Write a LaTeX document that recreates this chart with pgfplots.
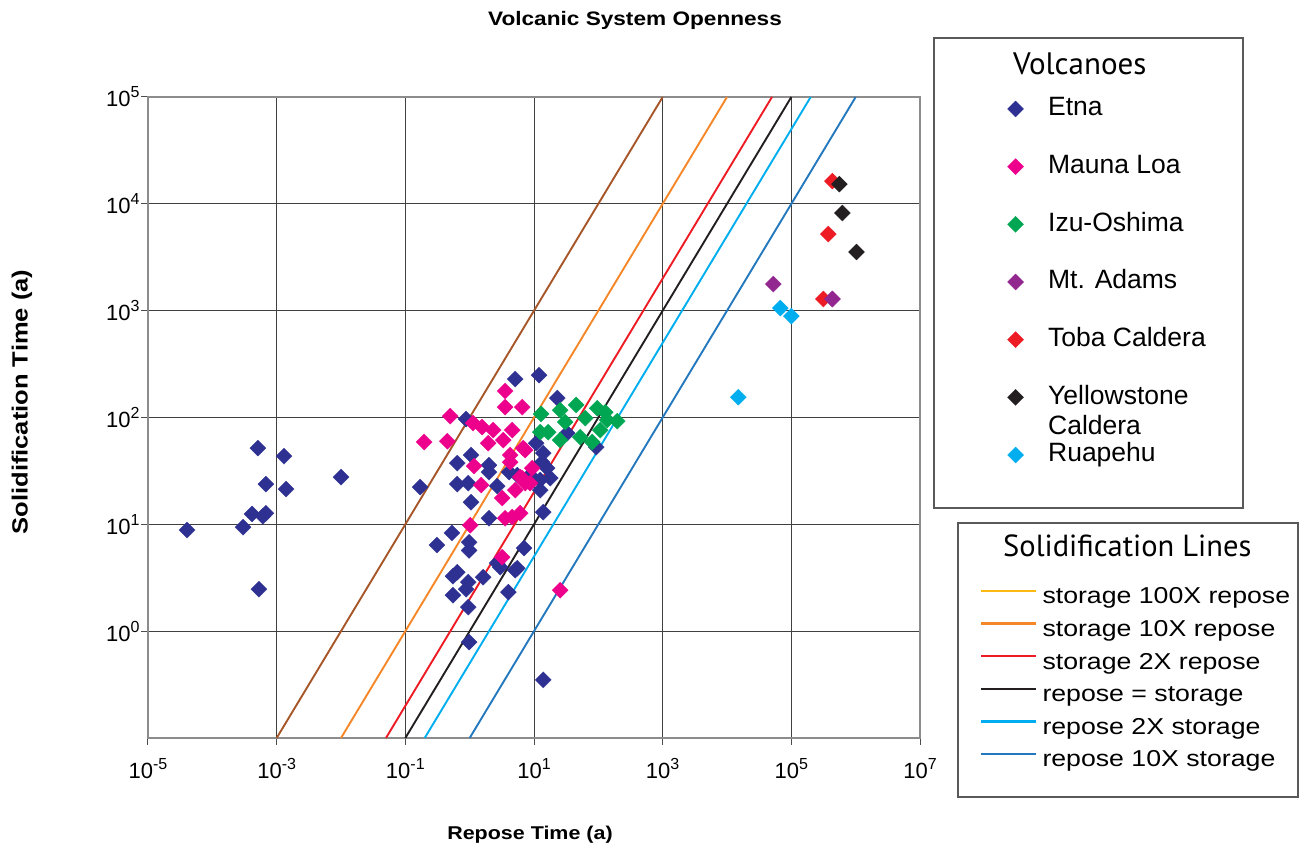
\documentclass[border=0pt]{standalone}
\usepackage{fontspec}
\setmainfont{Liberation Sans}
\newfontfamily\stf[FakeStretch=1.16]{Liberation Sans}
\newfontfamily\ptf{PT Sans}
\usepackage{pgfplots}
\pgfplotsset{compat=1.18}

\definecolor{cEtna}{RGB}{46,49,146}
\definecolor{cMauna}{RGB}{236,0,140}
\definecolor{cIzu}{RGB}{0,166,81}
\definecolor{cAdams}{RGB}{146,39,143}
\definecolor{cToba}{RGB}{237,28,36}
\definecolor{cYellow}{RGB}{35,31,32}
\definecolor{cRuap}{RGB}{0,174,239}

\definecolor{lBrown}{RGB}{166,86,40}
\definecolor{lOrange}{RGB}{245,135,40}
\definecolor{lRed}{RGB}{237,28,36}
\definecolor{lBlack}{RGB}{35,31,32}
\definecolor{lCyan}{RGB}{0,174,239}
\definecolor{lBlue}{RGB}{35,120,190}
\definecolor{gYellow}{RGB}{252,185,20}

\newcommand{\tl}[1]{10\raisebox{9bp}{\fontsize{16bp}{16bp}\selectfont #1}}

\pgfplotsset{
  vol/.style={only marks, color=#1, mark=square*, mark size=5.7bp,
    mark options={rotate=45, draw=#1, fill=#1, line width=0.2bp}},
  sline/.style={forget plot, color=#1, line width=1.9bp},
}

\pgfplotstableread{
x y
4.05e-5 8.83
3.0e-4 9.4
4.14e-4 12.5
6.1e-4 11.9
6.8e-4 12.7
5.1e-4 51.7
6.8e-4 23.8
1.3e-3 43.5
1.4e-3 21.4
0.01 27.7
5.3e-4 2.47
0.17 22.3
0.88 96.6
12.0 249
5.1 229
23 152
92.7 52.8
0.64 37.4
1.05 44.5
2.0 35.8
2.0 30.8
0.64 23.8
0.95 24.3
2.68 22.8
1.05 16.1
2.0 11.4
4.1 30.8
5.5 28.9
10.8 57.5
13.9 46.4
13.4 38.2
16.0 33.6
17.9 27.1
12.5 26.0
8.7 28.9
12.5 20.9
13.9 13.0
32.8 71.4
0.53 8.3
0.31 6.4
0.98 6.8
0.98 5.7
0.55 3.27
0.64 3.56
0.95 2.88
0.88 2.47
1.62 3.2
0.55 2.17
0.95 1.68
0.98 0.79
2.68 4.34
2.98 3.97
4.0 2.32
5.1 3.72
7.0 6.0
5.5 3.89
13.9 0.35
}\etna

\pgfplotstableread{
x y
0.196 58.9
0.45 60
0.50 103
1.13 88.7
1.56 81.3
2.32 76.2
1.94 57.5
3.32 61.4
4.58 76.2
3.56 177
3.56 125
6.56 125
4.26 44.5
6.8 51.7
1.17 35.1
1.51 23.3
3.2 17.6
5.1 20.9
6.56 27.1
1.02 9.8
3.56 11.4
6.1 12.7
9.4 33.6
7.3 24.3
8.7 24.3
4.26 38.2
3.2 4.93
25.5 2.42
4.58 11.7
7.3 49.6
6.1 27.7
}\mauna

\pgfplotstableread{
x y
12.9 108
16.6 72.9
25.5 117
45.3 131
30.5 90.6
62.5 98.6
96.2 122
128 112
197 92.5
52.4 65.5
80.4 58.9
107 76.2
12.5 72.9
25.5 61.4
137 94.6
}\izu

\pgfplotstableread{
x y
52500 1774
434000 1285
}\adams

\pgfplotstableread{
x y
434000 16300
376000 5210
315000 1285
}\toba

\pgfplotstableread{
x y
558000 15300
621000 8200
1030000 3540
}\yellow

\pgfplotstableread{
x y
67500 1057
100000 889
15000 155
}\ruap

\begin{document}
\begin{tikzpicture}[x=1bp,y=1bp]
\useasboundingbox (0,0) rectangle (1306,852);

% legend frames
\draw[draw=black!65, line width=1.2bp] (934,814) rectangle (1243,344);
\draw[draw=black!65, line width=1.2bp] (958,329) rectangle (1298,55);

\begin{axis}[
  at={(148bp,114bp)}, anchor=south west,
  width=772bp, height=641bp, scale only axis,
  xmode=log, ymode=log,
  xmin=1e-5, xmax=1e7, ymin=0.1, ymax=1e5,
  xtick={1e-5,1e-3,0.1,10,1000,1e5,1e7},
  xticklabels={\tl{-5},\tl{-3},\tl{-1},\tl{1},\tl{3},\tl{5},\tl{7}},
  ytick={1,10,100,1000,10000,100000},
  yticklabels={\tl{0},\tl{1},\tl{2},\tl{3},\tl{4},\tl{5}},
  xminorticks=false, yminorticks=false,
  grid=major,
  major grid style={draw=black!75, line width=0.9bp},
  axis line style={draw=black!45, line width=2.5bp},
  tick align=outside, xtick pos=left, ytick pos=left,
  major tick length=7bp,
  every tick/.style={draw=black!70, line width=1bp},
  xticklabel style={font=\fontsize{22bp}{22bp}\selectfont, yshift=-10bp},
  yticklabel style={font=\fontsize{22bp}{22bp}\selectfont, xshift=2bp},
  legend style={at={(1.11334,1.0016)}, anchor=north west, draw=none, fill=none,
    inner sep=0pt, outer sep=0pt, row sep=31.67bp, column sep=24.5bp,
    nodes={inner sep=0pt, text height=20bp, text depth=6bp,
      font=\fontsize{26.5bp}{30bp}\selectfont}},
  legend cell align=left,
]
\addplot[sline=lBrown] coordinates {(1e-3,0.1) (1e3,1e5)};
\addplot[sline=lOrange] coordinates {(1e-2,0.1) (1e4,1e5)};
\addplot[sline=lRed] coordinates {(5e-2,0.1) (5e4,1e5)};
\addplot[sline=lBlack] coordinates {(0.1,0.1) (1e5,1e5)};
\addplot[sline=lCyan] coordinates {(0.2,0.1) (2e5,1e5)};
\addplot[sline=lBlue] coordinates {(1,0.1) (1e6,1e5)};

\addplot[vol=cEtna] table[x=x,y=y] {\etna};
\addlegendentry{Etna}
\addplot[vol=cMauna] table[x=x,y=y] {\mauna};
\addlegendentry{Mauna Loa}
\addplot[vol=cIzu] table[x=x,y=y] {\izu};
\addlegendentry{Izu-Oshima}
\addplot[vol=cAdams] table[x=x,y=y] {\adams};
\addlegendentry{Mt. Adams}
\addplot[vol=cToba] table[x=x,y=y] {\toba};
\addlegendentry{Toba Caldera}
\addplot[vol=cYellow] table[x=x,y=y] {\yellow};
\addlegendentry{\begin{tabular}[t]{@{}l@{}}Yellowstone\\Caldera\end{tabular}}
\addplot[vol=cRuap] table[x=x,y=y] {\ruap};
\addlegendentry{Ruapehu}
\addplot[vol=cAdams, forget plot] coordinates {(434000,1285)};
\end{axis}

\begin{axis}[
  at={(148bp,114bp)}, anchor=south west,
  width=772bp, height=641bp, scale only axis,
  hide axis, xmin=0, xmax=1, ymin=0, ymax=1,
  legend image code/.code={\draw[#1] (0bp,7bp) -- (55bp,7bp);},
  legend style={at={(1.0777,0.2356)}, anchor=north west, draw=none, fill=none,
    inner sep=0pt, outer sep=0pt, row sep=10.6bp, column sep=5bp,
    nodes={inner sep=0pt, text height=17bp, text depth=5bp,
      font=\stf\fontsize{23bp}{26bp}\selectfont}},
  legend cell align=left,
]
\addlegendimage{gYellow, line width=2.5bp}
\addlegendentry{storage 100X repose}
\addlegendimage{lOrange, line width=2.5bp}
\addlegendentry{storage 10X repose}
\addlegendimage{lRed, line width=2.5bp}
\addlegendentry{storage 2X repose}
\addlegendimage{lBlack, line width=2.5bp}
\addlegendentry{repose = storage}
\addlegendimage{lCyan, line width=2.5bp}
\addlegendentry{repose 2X storage}
\addlegendimage{lBlue, line width=2.5bp}
\addlegendentry{repose 10X storage}
\end{axis}

% titles and labels
\node[anchor=base west, font=\ptf\fontsize{31bp}{32bp}\selectfont, inner sep=0pt] at (1013,777) {Volcanoes};
\node[anchor=base west, font=\ptf\fontsize{30.5bp}{32bp}\selectfont, inner sep=0pt] at (1003,295) {Solidification Lines};
\node[anchor=base, font=\stf\bfseries\fontsize{19.5bp}{22bp}\selectfont, inner sep=0pt] at (635,826) {Volcanic System Openness};
\node[anchor=base, font=\stf\bfseries\fontsize{18.5bp}{22bp}\selectfont, inner sep=0pt] at (530,13) {Repose Time (a)};
\node[rotate=90, anchor=center, font=\stf\bfseries\fontsize{22bp}{24bp}\selectfont, inner sep=0pt] at (22,450) {Solidification Time (a)};
\end{tikzpicture}
\end{document}
